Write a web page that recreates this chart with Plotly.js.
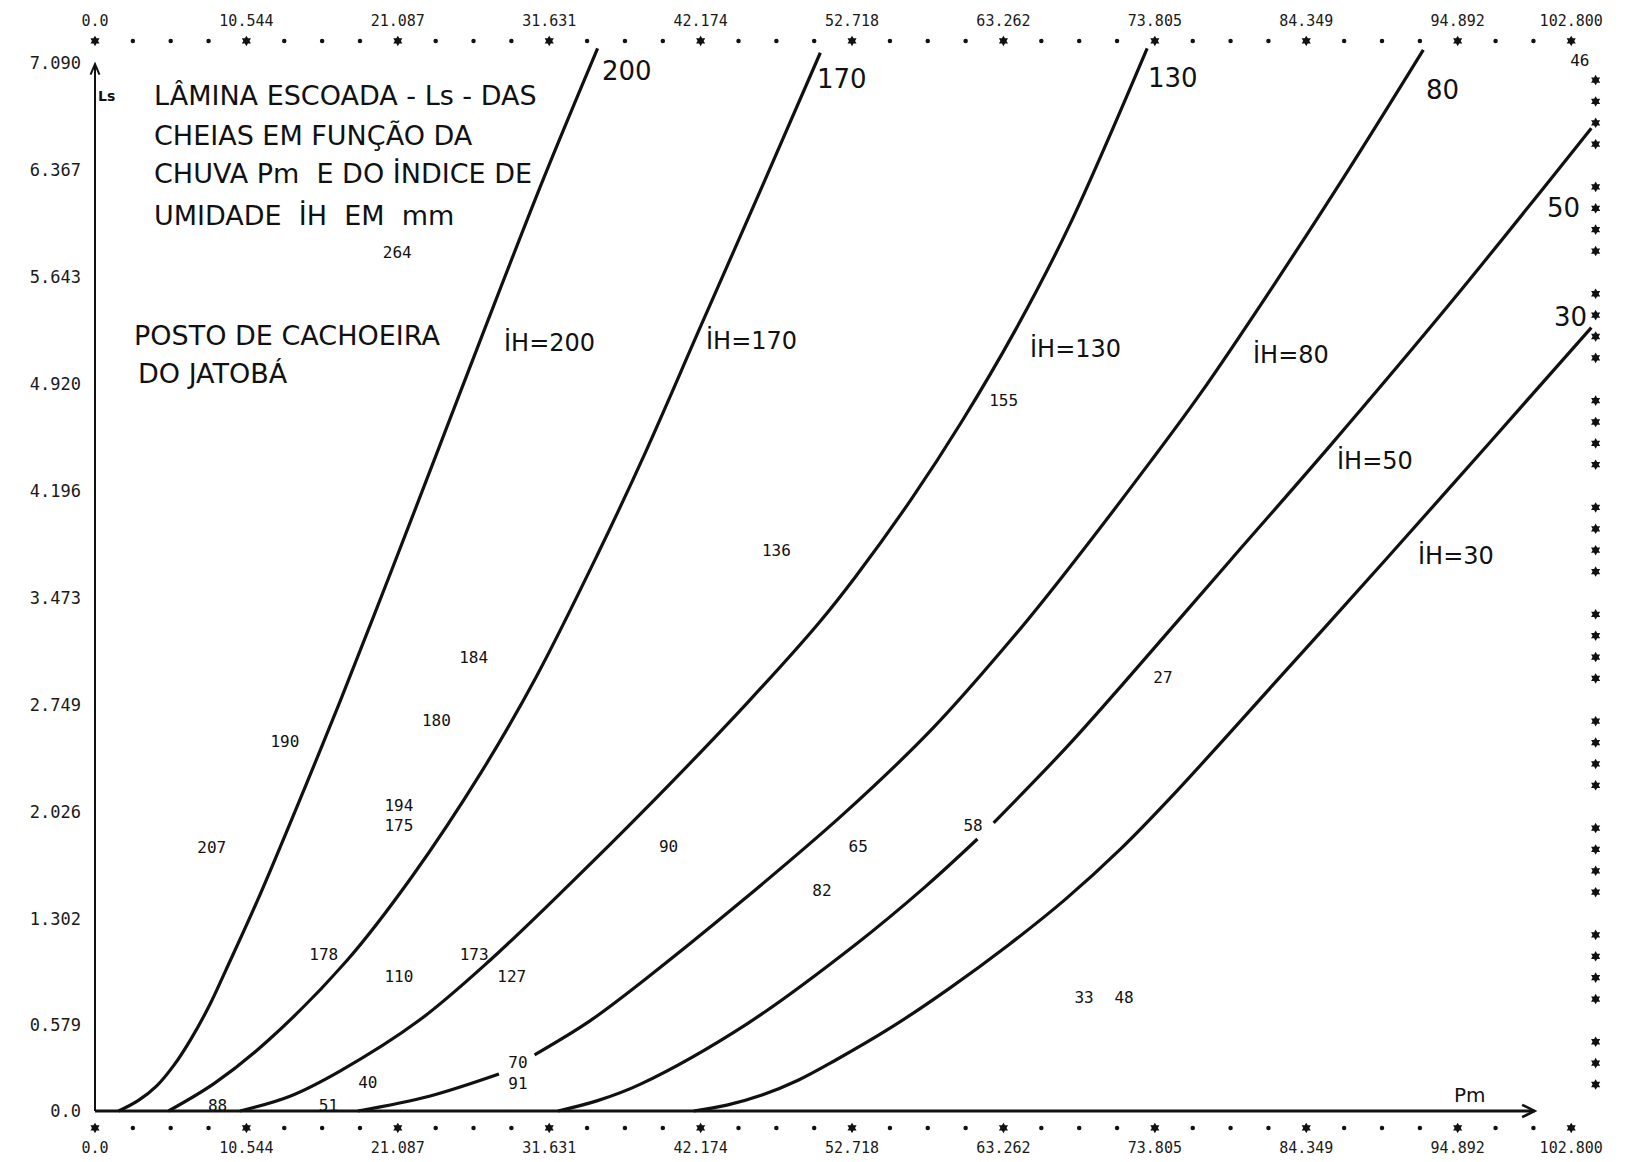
<!DOCTYPE html>
<html><head><meta charset="utf-8">
<script src="https://cdn.plot.ly/plotly-3.0.1.min.js"></script>
<style>html,body{margin:0;padding:0;background:#fff;} #chart{width:1625px;height:1162px;}</style>
</head><body><div id="chart"></div>
<script>
// ---- axis tick labels (line-printer scale) ----
const xTickVals = [0, 10.544, 21.087, 31.631, 42.174, 52.718, 63.262, 73.805, 84.349, 94.892, 102.8];
const xTickText = ['0.0','10.544','21.087','31.631','42.174','52.718','63.262','73.805','84.349','94.892','102.800'];
const yTickVals = [0, 0.579, 1.302, 2.026, 2.749, 3.473, 4.196, 4.920, 5.643, 6.367, 7.090];
const yTickText = ['0.0','0.579','1.302','2.026','2.749','3.473','4.196','4.920','5.643','6.367','7.090'];

// ---- curves Ls = f(Pm) for each humidity index iH (null = gap in the drawn line) ----
const iH200_Pm = [1.64, 3.0, 4.3, 5.5, 6.7, 8.0, 9.1, 11.34, 14.58, 17.06, 20.5, 24.0, 27.01, 31.24, 35.0];
const iH200_Ls = [0, 0.07, 0.17, 0.31, 0.49, 0.72, 0.95, 1.43, 2.18, 2.77, 3.62, 4.50, 5.26, 6.31, 7.19];
const iH170_Pm = [5.12, 8.36, 12.09, 17.56, 22.03, 27.01, 30.74, 34.97, 38.3, 42.18, 46.66, 50.51];
const iH170_Ls = [0, 0.19, 0.48, 1.02, 1.58, 2.31, 2.94, 3.76, 4.45, 5.31, 6.30, 7.16];
const iH130_Pm = [10.10, 13.58, 17.06, 22.53, 27.51, 33.22, 38.3, 45.41, 50.39, 53.0, 56.85, 60.33, 64.07, 67.80, 73.27];
const iH130_Ls = [0, 0.10, 0.27, 0.61, 1.02, 1.55, 2.04, 2.76, 3.30, 3.62, 4.14, 4.66, 5.28, 5.98, 7.19];
const iH80_Pm = [18.3, 23.28, 28.13, null, 30.61, 34.47, 38.3, 44.92, 52.13, 58.35, 64.07, 67.4, 73.47, 76.95, 82.03, 87.3, 92.5];
const iH80_Ls = [0, 0.10, 0.25, null, 0.38, 0.61, 0.89, 1.41, 2.01, 2.59, 3.22, 3.62, 4.39, 4.85, 5.58, 6.37, 7.18];
const iH50_Pm = [32.24, 35.0, 37.95, 45.41, 52.88, 57.85, 61.45, null, 62.58, 67.55, 71.5, 79.1, 86.0, 94.5, 104.2];
const iH50_Ls = [0, 0.07, 0.18, 0.59, 1.12, 1.52, 1.84, null, 1.95, 2.45, 2.88, 3.73, 4.50, 5.48, 6.65];
const iH30_Pm = [41.69, 44.0, 46.5, 49.0, 51.5, 55.36, 59.5, 63.57, 67.55, 71.5, 75.0, 82.47, 90.06, 97.1, 104.2];
const iH30_Ls = [0, 0.04, 0.11, 0.21, 0.34, 0.56, 0.83, 1.12, 1.43, 1.78, 2.13, 2.93, 3.75, 4.52, 5.30];

// ---- observed events (printed iH values at their Pm / Ls position) ----
const obsLabel = ['264','184','180','190','194','175','207','178','110','173','127','70','91','40','88','51','136','155','90','65','82','58','27','33','48','46'];
const obsPm = [21.05, 26.37, 23.77, 13.22, 21.16, 21.16, 8.13, 15.93, 21.16, 26.40, 29.02, 29.45, 29.45, 19.0, 8.54, 16.26, 47.45, 63.28, 39.94, 53.15, 50.62, 61.15, 74.37, 68.88, 71.66, 103.4];
const obsLs = [5.80, 3.06, 2.63, 2.49, 2.06, 1.92, 1.77, 1.05, 0.90, 1.05, 0.90, 0.32, 0.176, 0.18, 0.03, 0.03, 3.78, 4.80, 1.78, 1.78, 1.48, 1.92, 2.92, 0.76, 0.76, 7.10];

// ---- curve labels ----
const curveNames = ['200','170','130','80','50','30'];

const INK = '#111';
const MONO = 'DejaVu Sans Mono, monospace';
const SANS = 'DejaVu Sans, sans-serif';

// line-printer frame: minor stops between tick labels
const xStep = xTickVals[1] / 4;
const nX = Math.round(xTickVals[xTickVals.length - 1] / xStep);
const xMinor = [];
for (let k = 0; k <= nX; k++) if (k % 4 !== 0 && k !== nX) xMinor.push(k * xStep);
const yStep = (yTickVals[2] - yTickVals[1]) / 5;
const yTop = yTickVals[yTickVals.length - 1];
const nY = Math.round(yTop / yStep);
const yMinor = [];
for (let k = 0; k <= nY; k++) if (k % 5 !== 0 && k !== nY) yMinor.push(yTop - k * yStep);
const yMinorRight = yMinor.map(v => v + 0.03);

const TOP_ROW = 7.24, BOT_ROW = -0.115, LEFT_COL = -1.78, RIGHT_COL = 104.5;

function rep(v, n) { return Array(n).fill(v); }
const starM = {symbol: 'hexagram', size: 8, color: INK};
const dotM = {symbol: 'circle', size: 4.5, color: INK};

const traces = [];
function curve(xs, ys) {
  traces.push({x: xs, y: ys, mode: 'lines', line: {color: INK, width: 3.2, shape: 'spline', smoothing: 1},
    connectgaps: false, hoverinfo: 'skip'});
}
curve(iH200_Pm, iH200_Ls); curve(iH170_Pm, iH170_Ls); curve(iH130_Pm, iH130_Ls);
curve(iH80_Pm, iH80_Ls); curve(iH50_Pm, iH50_Ls); curve(iH30_Pm, iH30_Ls);

// frame rows/columns
traces.push({x: xTickVals, y: rep(TOP_ROW, xTickVals.length), mode: 'markers', marker: starM, cliponaxis: false, hoverinfo: 'skip', xaxis: 'x2'});
traces.push({x: xMinor, y: rep(TOP_ROW, xMinor.length), mode: 'markers', marker: dotM, cliponaxis: false, hoverinfo: 'skip'});
traces.push({x: xTickVals, y: rep(BOT_ROW, xTickVals.length), mode: 'markers', marker: starM, cliponaxis: false, hoverinfo: 'skip'});
traces.push({x: xMinor, y: rep(BOT_ROW, xMinor.length), mode: 'markers', marker: dotM, cliponaxis: false, hoverinfo: 'skip'});
traces.push({x: rep(LEFT_COL, yMinor.length), y: yMinor, mode: 'markers', marker: starM, cliponaxis: false, hoverinfo: 'skip'});
traces.push({x: rep(RIGHT_COL, yMinorRight.length), y: yMinorRight, mode: 'markers', marker: starM, cliponaxis: false, hoverinfo: 'skip'});

// observed values
traces.push({x: obsPm, y: obsLs, text: obsLabel, mode: 'text', textposition: 'middle center',
  textfont: {family: MONO, size: 16, color: INK}, cliponaxis: false, hoverinfo: 'skip'});

function ann(text, x, y, size, anchor, fam) {
  return {text: text, x: x, y: y, xref: 'x', yref: 'y', showarrow: false,
    xanchor: anchor || 'center', yanchor: 'middle', font: {family: fam || SANS, size: size, color: INK}};
}
const annotations = [
  ann('LÂMINA ESCOADA - Ls - DAS', 4.0, 6.87, 27, 'left'),
  ann('CHEIAS EM FUNÇÃO DA', 4.0, 6.60, 27, 'left'),
  ann('CHUVA Pm  E DO İNDICE DE', 4.0, 6.34, 27, 'left'),
  ann('UMIDADE  İH  EM  mm', 4.0, 6.06, 27, 'left'),
  ann('POSTO DE CACHOEIRA', 2.6, 5.25, 27, 'left'),
  ann('DO JATOBÁ', 2.85, 4.99, 27, 'left'),
  ann('<b>Ls</b>', 0.82, 6.87, 14),
  ann('Pm', 95.75, 0.11, 20),
  ann(curveNames[0], 37.05, 7.04, 26), ann(curveNames[1], 52.05, 6.98, 26),
  ann(curveNames[2], 75.07, 6.99, 26), ann(curveNames[3], 93.87, 6.91, 26),
  ann(curveNames[4], 102.26, 6.11, 26), ann(curveNames[5], 102.72, 5.37, 26),
  ann('İH=' + curveNames[0], 31.62, 5.20, 24), ann('İH=' + curveNames[1], 45.75, 5.21, 24),
  ann('İH=' + curveNames[2], 68.28, 5.16, 24), ann('İH=' + curveNames[3], 83.29, 5.12, 24),
  ann('İH=' + curveNames[4], 89.14, 4.40, 24), ann('İH=' + curveNames[5], 94.75, 3.76, 24)
];

// axis arrows (drawn on data axes)
const yArrowTip = 7.084, xArrowTip = 100.25;
const shapes = [
  {type: 'line', xref: 'x', yref: 'y', x0: 0, y0: 0, x1: 0, y1: yArrowTip, line: {color: INK, width: 2}},
  {type: 'path', xref: 'x', yref: 'y', path: `M -0.31 ${yArrowTip - 0.072} L 0 ${yArrowTip} L 0.31 ${yArrowTip - 0.072}`, line: {color: INK, width: 2}},
  {type: 'line', xref: 'x', yref: 'y', x0: 0, y0: 0, x1: xArrowTip, y1: 0, line: {color: INK, width: 3}},
  {type: 'path', xref: 'x', yref: 'y', path: `M ${xArrowTip - 0.87} 0.042 L ${xArrowTip} 0 L ${xArrowTip - 0.87} -0.042`, line: {color: INK, width: 2.5}}
];

const XR = [-0.905, 105.64], YR = [-0.176, 7.314];
const tickFont = {family: MONO, size: 15, color: '#1a1a1a'};
const axBase = {showgrid: false, zeroline: false, showline: false, ticks: '', fixedrange: true, tickfont: tickFont};
const layout = {
  width: 1625, height: 1162,
  margin: {l: 82, r: 13, t: 30, b: 25, pad: 0},
  paper_bgcolor: '#fff', plot_bgcolor: '#fff', showlegend: false,
  xaxis: Object.assign({}, axBase, {range: XR, tickvals: xTickVals, ticktext: xTickText, tickangle: 0}),
  xaxis2: Object.assign({}, axBase, {range: XR, tickvals: xTickVals, ticktext: xTickText, overlaying: 'x', side: 'top', anchor: 'y', tickangle: 0}),
  yaxis: Object.assign({}, axBase, {range: YR, tickvals: yTickVals, ticktext: yTickText, tickfont: {family: MONO, size: 17, color: '#1a1a1a'}}),
  shapes: shapes, annotations: annotations
};
Plotly.newPlot('chart', traces, layout, {staticPlot: true, displayModeBar: false});
</script></body></html>
